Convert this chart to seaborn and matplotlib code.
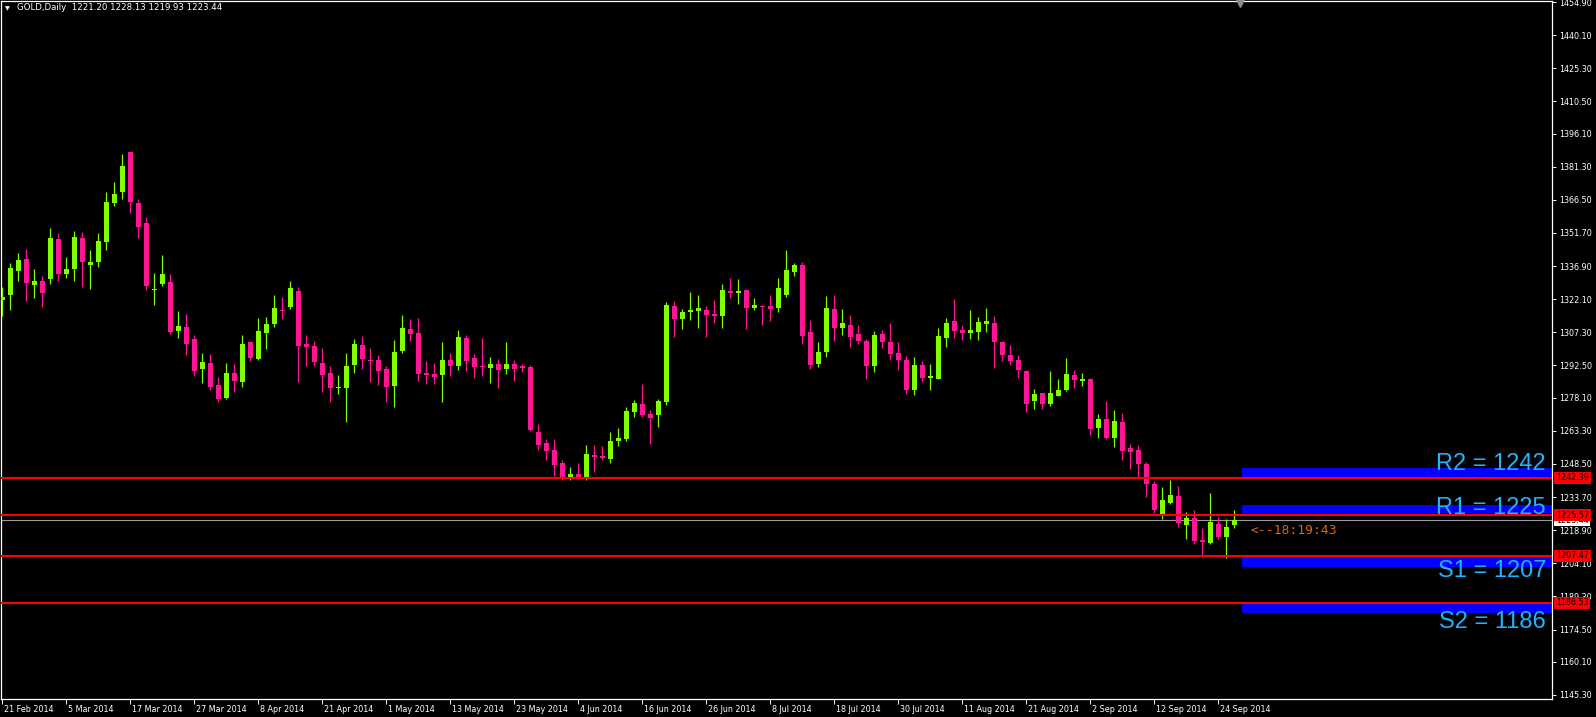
import numpy as np
import pandas as pd
import matplotlib
matplotlib.use("Agg")
import matplotlib.pyplot as plt
import matplotlib.transforms as mtransforms
import seaborn as sns

# %% Data (GOLD, Daily)
opens = [1321.9, 1324.0, 1334.7, 1340.1, 1328.5, 1330.2, 1331.1, 1349.0, 1333.4, 1335.6,
         1349.5, 1337.4, 1338.8, 1347.7, 1365.1, 1370.0, 1387.9, 1365.1, 1356.2, 1326.2,
         1328.9, 1329.8, 1307.9, 1309.7, 1304.3, 1290.9, 1293.6, 1283.8, 1278.0, 1289.1,
         1285.1, 1303.0, 1295.4, 1307.0, 1311.0, 1317.3, 1318.6, 1325.8, 1302.1, 1301.2,
         1293.6, 1289.1, 1282.4, 1282.4, 1292.7, 1301.7, 1294.9, 1294.9, 1290.9, 1283.3,
         1299.0, 1308.8, 1307.0, 1289.1, 1288.7, 1288.3, 1294.9, 1292.3, 1304.8, 1295.9,
         1292.3, 1291.4, 1293.2, 1290.9, 1293.2, 1292.3, 1291.8, 1262.8, 1257.9, 1254.7,
         1248.9, 1242.2, 1244.0, 1242.2, 1252.5, 1252.1, 1250.7, 1258.8, 1259.7, 1271.7,
         1275.3, 1270.8, 1270.4, 1276.2, 1319.1, 1313.3, 1316.4, 1316.8, 1317.3, 1315.5,
         1314.6, 1325.8, 1324.9, 1326.2, 1318.2, 1319.3, 1319.1, 1318.2, 1324.0, 1334.3,
         1337.4, 1307.5, 1293.2, 1298.5, 1317.7, 1309.3, 1310.6, 1306.6, 1303.4, 1292.3,
         1306.6, 1303.0, 1298.1, 1294.9, 1281.5, 1292.7, 1286.9, 1286.5, 1304.8, 1312.4,
         1308.4, 1307.0, 1307.5, 1311.0, 1311.5, 1303.2, 1297.2, 1294.9, 1290.0, 1276.6,
         1280.0, 1275.3, 1278.9, 1281.5, 1288.3, 1285.6, 1286.5, 1264.6, 1268.6, 1260.1,
         1267.3, 1255.6, 1254.7, 1248.5, 1239.5, 1226.1, 1231.1, 1234.2, 1221.2, 1224.4,
         1214.5, 1213.2, 1221.5, 1215.9, 1221.20]
highs = [1327.7, 1338.3, 1342.8, 1344.5, 1335.6, 1332.5, 1353.9, 1351.7, 1341.0, 1352.6,
         1352.1, 1344.1, 1351.7, 1370.0, 1374.5, 1387.0, 1388.0, 1366.9, 1358.8, 1333.8,
         1341.9, 1333.4, 1316.8, 1315.5, 1306.1, 1298.1, 1297.6, 1287.3, 1293.6, 1293.2,
         1306.1, 1303.4, 1313.7, 1314.2, 1324.0, 1323.1, 1330.2, 1327.6, 1306.1, 1303.4,
         1300.3, 1292.3, 1288.3, 1298.1, 1304.3, 1305.7, 1300.3, 1297.2, 1292.3, 1303.9,
         1315.1, 1313.3, 1313.7, 1294.5, 1293.6, 1303.0, 1298.1, 1308.4, 1306.1, 1297.6,
         1304.8, 1296.3, 1295.4, 1303.0, 1294.9, 1293.2, 1292.7, 1266.4, 1259.7, 1259.7,
         1250.3, 1247.1, 1248.9, 1257.0, 1257.0, 1256.5, 1262.8, 1264.6, 1273.9, 1277.1,
         1284.2, 1272.6, 1277.5, 1320.9, 1321.3, 1317.7, 1325.3, 1324.0, 1319.1, 1321.8,
         1328.9, 1331.6, 1331.1, 1326.7, 1322.7, 1319.5, 1324.0, 1331.6, 1344.1, 1338.3,
         1338.7, 1312.8, 1303.0, 1323.5, 1324.0, 1317.7, 1315.1, 1310.6, 1304.3, 1307.9,
         1308.4, 1311.5, 1303.0, 1296.7, 1296.3, 1294.5, 1293.2, 1309.3, 1313.7, 1322.2,
         1310.6, 1317.3, 1314.2, 1318.2, 1314.6, 1303.4, 1301.7, 1297.2, 1290.5, 1282.0,
         1280.2, 1290.0, 1286.5, 1295.9, 1290.5, 1289.1, 1286.9, 1270.8, 1276.6, 1272.6,
         1271.3, 1257.4, 1257.0, 1249.4, 1240.9, 1238.2, 1241.3, 1238.7, 1227.0, 1227.9,
         1219.9, 1235.5, 1224.9, 1223.9, 1228.13]
lows = [1314.8, 1317.3, 1330.2, 1321.3, 1322.7, 1318.6, 1328.9, 1330.2, 1331.6, 1330.2,
        1327.6, 1326.7, 1336.5, 1344.1, 1363.8, 1366.9, 1360.6, 1349.5, 1326.2, 1319.5,
        1328.0, 1306.6, 1304.8, 1297.2, 1287.8, 1284.7, 1281.5, 1276.2, 1277.5, 1280.6,
        1282.9, 1294.5, 1295.0, 1299.9, 1309.7, 1313.3, 1317.7, 1285.1, 1292.3, 1292.3,
        1280.6, 1276.2, 1279.8, 1267.3, 1289.1, 1290.9, 1285.1, 1283.8, 1276.2, 1273.9,
        1298.1, 1303.4, 1285.6, 1284.2, 1284.2, 1276.2, 1287.8, 1290.5, 1290.0, 1286.9,
        1287.8, 1284.7, 1282.4, 1288.7, 1285.6, 1289.6, 1263.2, 1254.7, 1250.3, 1243.1,
        1241.3, 1241.3, 1241.8, 1241.3, 1244.9, 1250.3, 1248.9, 1256.5, 1258.8, 1269.5,
        1269.5, 1257.4, 1265.0, 1274.8, 1305.2, 1308.8, 1312.8, 1309.3, 1305.2, 1311.5,
        1309.3, 1322.7, 1320.0, 1308.8, 1317.3, 1310.6, 1312.4, 1316.4, 1323.1, 1332.5,
        1302.1, 1290.9, 1291.8, 1296.3, 1303.4, 1306.1, 1300.8, 1302.1, 1286.5, 1289.6,
        1300.3, 1294.9, 1290.5, 1279.8, 1279.3, 1285.1, 1281.5, 1286.3, 1300.8, 1304.8,
        1303.9, 1304.3, 1303.9, 1307.5, 1291.4, 1294.5, 1292.7, 1286.9, 1271.7, 1273.1,
        1273.1, 1274.4, 1278.7, 1281.1, 1282.4, 1283.3, 1261.4, 1260.1, 1259.7, 1256.1,
        1250.3, 1246.3, 1242.7, 1233.7, 1226.6, 1223.9, 1230.6, 1220.3, 1215.0, 1212.7,
        1207.4, 1212.7, 1214.8, 1206.5, 1219.93]
closes = [1323.1, 1336.1, 1339.6, 1329.4, 1330.2, 1324.9, 1349.5, 1333.4, 1335.6, 1349.9,
          1338.8, 1338.8, 1348.1, 1365.5, 1369.1, 1381.6, 1365.5, 1354.4, 1328.0, 1326.7,
          1333.4, 1307.5, 1310.1, 1302.1, 1290.0, 1294.1, 1282.9, 1277.5, 1289.1, 1285.6,
          1302.1, 1295.9, 1307.9, 1311.0, 1318.2, 1317.0, 1327.1, 1301.2, 1300.8, 1294.1,
          1288.3, 1282.4, 1282.9, 1292.3, 1302.1, 1295.4, 1294.6, 1290.0, 1282.9, 1298.5,
          1309.3, 1306.6, 1288.7, 1288.3, 1287.3, 1294.9, 1292.3, 1305.2, 1294.5, 1291.8,
          1291.8, 1293.2, 1290.5, 1293.2, 1290.9, 1291.4, 1263.7, 1257.0, 1254.3, 1248.0,
          1242.7, 1244.0, 1242.7, 1253.0, 1251.6, 1251.2, 1258.8, 1260.1, 1272.2, 1275.7,
          1270.4, 1269.0, 1276.6, 1319.5, 1313.3, 1316.4, 1317.3, 1318.2, 1315.1, 1314.6,
          1326.2, 1324.9, 1325.8, 1318.2, 1319.5, 1318.6, 1317.7, 1327.1, 1335.2, 1337.4,
          1305.7, 1292.7, 1298.5, 1318.2, 1309.3, 1311.5, 1305.2, 1303.4, 1292.3, 1306.1,
          1303.0, 1297.6, 1294.9, 1281.5, 1292.7, 1286.9, 1287.8, 1305.7, 1311.5, 1307.9,
          1307.0, 1308.4, 1311.9, 1312.4, 1303.0, 1297.2, 1294.5, 1290.5, 1275.3, 1279.8,
          1275.3, 1280.2, 1281.5, 1288.7, 1286.0, 1286.5, 1264.1, 1268.6, 1260.1, 1267.7,
          1254.3, 1253.8, 1248.5, 1239.5, 1227.9, 1232.4, 1234.6, 1222.1, 1224.4, 1214.1,
          1213.6, 1222.6, 1216.0, 1220.3, 1223.44]

date_tick_bars = [0, 8, 16, 24, 32, 40, 48, 56, 64, 72, 80, 88, 96, 104, 112, 120, 128, 136, 144, 152]
date_tick_labels = ["21 Feb 2014", "5 Mar 2014", "17 Mar 2014", "27 Mar 2014", "8 Apr 2014",
                    "21 Apr 2014", "1 May 2014", "13 May 2014", "23 May 2014", "4 Jun 2014",
                    "16 Jun 2014", "26 Jun 2014", "8 Jul 2014", "18 Jul 2014", "30 Jul 2014",
                    "11 Aug 2014", "21 Aug 2014", "2 Sep 2014", "12 Sep 2014", "24 Sep 2014"]
price_ticks = [1454.90, 1440.10, 1425.30, 1410.50, 1396.10, 1381.30, 1366.50, 1351.70,
               1336.90, 1322.10, 1307.30, 1292.50, 1278.10, 1263.30, 1248.50, 1233.70,
               1218.90, 1204.10, 1189.30, 1174.50, 1160.10, 1145.30]

# pivot levels
pivot_names = ["R2", "R1", "S1", "S2"]
pivot_levels = [1242.39, 1225.57, 1207.47, 1186.53]
band_lo = [1242.8, 1226.4, 1202.6, 1182.0]
band_hi = [1246.8, 1230.2, 1206.8, 1186.0]
label_base = [1245.8, 1226.1, 1198.0, 1175.3]

bid = 1223.44
countdown = "<--18:19:43"

df = pd.DataFrame({"open": opens, "high": highs, "low": lows, "close": closes})
df["bar"] = np.arange(len(df))
df["bull"] = df["close"] >= df["open"]

# %% Style
sns.set_theme(style="dark", rc={"axes.facecolor": "black", "figure.facecolor": "black",
                                "axes.edgecolor": "white", "text.color": "white",
                                "xtick.color": "white", "ytick.color": "white"})
plt.rcParams["font.family"] = ["DejaVu Sans"]

BULL = "#7FFF00"
BEAR = "#FF1493"

W, H = 1596, 717
fig = plt.figure(figsize=(W / 100, H / 100), dpi=100)
ax = fig.add_axes([1 / W, 1 - 699 / H, 1551 / W, 698 / H])
ax.set_facecolor("black")

# %% Candles
colors = np.where(df["bull"], BULL, BEAR)
body_lo = df[["open", "close"]].min(axis=1)
body_h = (df["close"] - df["open"]).abs().clip(lower=0.45)
ax.vlines(df["bar"], df["low"], df["high"], colors=colors, linewidth=0.9, zorder=3)
ax.bar(df["bar"], body_h, bottom=body_lo, width=0.62, color=colors, linewidth=0, zorder=4)

last = df["bar"].iloc[-1]
x_right = 193.7
ax.set_xlim(-0.16, x_right)
ax.set_ylim(1143.5, 1455.35)

# %% Pivot lines, bands and labels
blend = mtransforms.blended_transform_factory(ax.transAxes, ax.transData)
for name, lvl, lo, hi, yb in zip(pivot_names, pivot_levels, band_lo, band_hi, label_base):
    ax.fill_between([last + 1, x_right], lo, hi, color="#0000FF", linewidth=0, zorder=2)
    ax.axhline(lvl, color="#FF0000", linewidth=1.5, zorder=5)
    ax.text(0.9962, yb, f"{name} = {int(lvl)}", transform=blend, ha="right", va="baseline",
            fontsize=17, color="#1EB4FF", family=["Liberation Sans", "DejaVu Sans"], zorder=6)

ax.axhline(bid, color="#9a9a9a", linewidth=0.8, zorder=2)
ax.text(last + 2, bid - 6.3, countdown, ha="left", va="baseline", fontsize=9.4,
        color="#D2691E", family=["DejaVu Sans Mono"], zorder=6)

# price boxes on the right scale
ax.text(1.0026, bid, f"{bid:.2f}", transform=blend, ha="left", va="center", fontsize=5.8,
        color="black", bbox=dict(boxstyle="square,pad=0.2", fc="white", ec="none"),
        clip_on=False, zorder=8)
for lvl in pivot_levels:
    ax.text(1.0026, lvl, f"{lvl:.2f}", transform=blend, ha="left", va="center", fontsize=5.8,
            color="black", bbox=dict(boxstyle="square,pad=0.2", fc="#FF0000", ec="none"),
            clip_on=False, zorder=9)

# chart shift marker
ax.plot([last + 0.75], [0.997], marker="v", markersize=5.5, color="#8c8c8c", linestyle="none",
        transform=mtransforms.blended_transform_factory(ax.transData, ax.transAxes),
        clip_on=False, zorder=7)

# %% Axes
ax.yaxis.tick_right()
ax.set_yticks(price_ticks)
ax.set_yticklabels([f"{p:.2f}" for p in price_ticks])
ax.tick_params(axis="y", which="both", right=True, left=False, length=3, width=0.7,
               pad=2, labelsize=5.8, colors="white")
ax.set_xticks(date_tick_bars)
ax.set_xticklabels(date_tick_labels, ha="left")
ax.tick_params(axis="x", which="both", bottom=True, length=3.5, width=0.7, pad=1,
               labelsize=5.8, colors="white")
shift = mtransforms.ScaledTranslation(1.5 / 100, 0, fig.dpi_scale_trans)
for lab in ax.get_xticklabels():
    lab.set_transform(lab.get_transform() + shift)
ax.grid(False)
for spine in ax.spines.values():
    spine.set_color("white")
    spine.set_linewidth(0.9)

# header
r = df.iloc[-1]
fig.text(5 / W, 1 - 8.5 / H, "\u25bc", fontsize=4.5, color="white", va="center")
fig.text(17 / W, 1 - 8 / H,
         f"GOLD,Daily  {r['open']:.2f} {r['high']:.2f} {r['low']:.2f} {r['close']:.2f}",
         fontsize=6.2, color="white", va="center")

fig.savefig("out.png", dpi=100, facecolor="black")
plt.close(fig)
